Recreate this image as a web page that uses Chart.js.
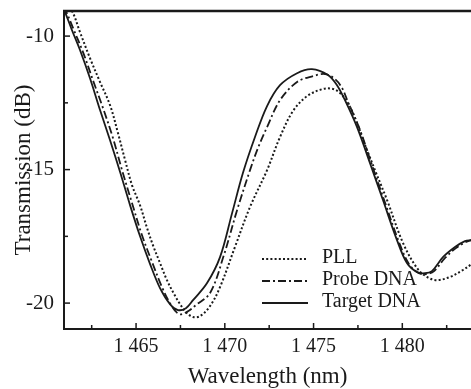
<!DOCTYPE html>
<html lang="en">
<head>
    <meta charset="UTF-8">
    <title>Transmission spectra</title>
    <script src="https://cdn.jsdelivr.net/npm/chart.js"></script>
    <style>
        html, body { margin: 0; padding: 0; background: #fff; }
        #wrap { width: 471px; height: 389px; }
    </style>
</head>
<body>
    <div id="wrap"><canvas id="specChart" width="471" height="389"></canvas></div>

    <script>
        // PLL (dotted)
        const pllWave = [1460.9, 1461.39, 1461.84, 1462.40, 1462.97, 1463.53, 1463.98, 1464.38, 1464.77, 1465.22, 1465.62, 1465.95, 1466.35, 1466.74, 1467.14, 1467.48, 1467.81, 1468.21, 1468.60, 1469.17, 1469.73, 1470.57, 1471.42, 1472.38, 1473.11, 1473.84, 1474.63, 1475.53, 1476.10, 1476.49, 1476.94, 1477.39, 1477.84, 1478.46, 1479.14, 1480.04, 1480.83, 1481.39, 1481.95, 1482.69, 1483.42, 1483.9];
        const pllTrans = [-8.7, -9.06, -9.85, -10.82, -11.72, -12.58, -13.63, -14.64, -15.58, -16.33, -17.19, -17.83, -18.50, -19.14, -19.66, -20.04, -20.34, -20.52, -20.49, -20.11, -19.40, -17.90, -16.40, -15.02, -13.78, -12.81, -12.25, -11.98, -11.98, -12.13, -12.51, -13.15, -13.97, -15.02, -16.14, -17.75, -18.69, -19.02, -19.14, -19.02, -18.76, -18.54];

        // Probe DNA (dash-dot)
        const probeWave = [1460.9, 1461.05, 1461.50, 1462.01, 1462.57, 1463.14, 1463.70, 1464.21, 1464.77, 1465.33, 1465.90, 1466.46, 1466.97, 1467.42, 1467.87, 1468.38, 1469.17, 1469.95, 1470.69, 1471.42, 1471.87, 1472.38, 1473.11, 1474.07, 1474.97, 1475.65, 1476.21, 1476.61, 1476.94, 1477.62, 1478.29, 1479.02, 1479.81, 1480.38, 1480.94, 1481.39, 1481.79, 1482.41, 1483.02, 1483.59, 1483.9];
        const probeTrans = [-8.9, -9.06, -9.78, -10.60, -11.65, -12.70, -13.82, -15.02, -16.25, -17.45, -18.46, -19.40, -20.07, -20.41, -20.33, -20.07, -19.62, -18.20, -16.52, -15.02, -14.19, -13.41, -12.40, -11.72, -11.50, -11.42, -11.61, -11.95, -12.47, -13.52, -14.83, -16.22, -17.71, -18.54, -18.88, -18.91, -18.80, -18.31, -17.94, -17.71, -17.64];

        // Target DNA (solid)
        const targetWave = [1460.9, 1461.00, 1461.39, 1461.84, 1462.40, 1462.97, 1463.53, 1464.10, 1464.66, 1465.22, 1465.79, 1466.35, 1466.91, 1467.36, 1467.81, 1468.21, 1469.00, 1469.73, 1470.41, 1471.02, 1471.70, 1472.38, 1473.11, 1474.07, 1474.91, 1475.81, 1476.32, 1476.77, 1477.45, 1478.18, 1478.91, 1479.70, 1480.26, 1480.83, 1481.28, 1481.67, 1482.29, 1482.97, 1483.53, 1483.9];
        const targetTrans = [-8.95, -9.10, -9.78, -10.52, -11.57, -12.77, -13.89, -15.09, -16.33, -17.49, -18.54, -19.44, -20.04, -20.26, -20.19, -19.89, -19.25, -18.28, -16.63, -15.13, -13.78, -12.62, -11.84, -11.39, -11.24, -11.46, -11.84, -12.40, -13.41, -14.76, -16.14, -17.64, -18.50, -18.84, -18.88, -18.80, -18.28, -17.90, -17.68, -17.64];

        const seriesNames = ['PLL', 'Probe DNA', 'Target DNA'];
        const xTicks = [1465, 1470, 1475, 1480];
        const xMinorTicks = [1462.5, 1467.5, 1472.5, 1477.5, 1482.5];
        const yTicks = [-20, -15, -10];
        const yMinorTicks = [-17.5, -12.5];

        const serif = "'Liberation Serif', 'Times New Roman', serif";

        function toPoints(xs, ys) {
            return xs.map((x, i) => ({ x: x, y: ys[i] }));
        }

        const dashStyles = [[2, 2.2], [8, 3, 2, 3], []];

        // 안쪽 눈금, 윗 테두리, 범례
        const framePlugin = {
            id: 'frame',
            afterDraw(chart) {
                const ctx = chart.ctx;
                const area = chart.chartArea;
                const xs = chart.scales.x;
                const ys = chart.scales.y;
                ctx.save();
                ctx.strokeStyle = '#1a1a1a';
                ctx.lineWidth = 2.5;
                ctx.beginPath();
                ctx.moveTo(area.left - 1, area.top);
                ctx.lineTo(chart.width, area.top);
                ctx.stroke();

                ctx.lineWidth = 1.5;
                const tick = (v, len, horiz) => {
                    ctx.beginPath();
                    if (horiz) {
                        const px = xs.getPixelForValue(v);
                        ctx.moveTo(px, area.bottom);
                        ctx.lineTo(px, area.bottom - len);
                    } else {
                        const py = ys.getPixelForValue(v);
                        ctx.moveTo(area.left, py);
                        ctx.lineTo(area.left + len, py);
                    }
                    ctx.stroke();
                };
                xTicks.forEach(v => tick(v, 6, true));
                xMinorTicks.forEach(v => tick(v, 4, true));
                yTicks.forEach(v => tick(v, 6, false));
                yMinorTicks.forEach(v => tick(v, 4, false));

                // legend
                const rows = [259, 281, 303];
                ctx.font = '20px ' + serif;
                ctx.fillStyle = '#1a1a1a';
                ctx.textBaseline = 'middle';
                chart.data.datasets.forEach((ds, i) => {
                    ctx.save();
                    ctx.lineWidth = ds.borderWidth;
                    ctx.setLineDash(ds.borderDash);
                    ctx.strokeStyle = ds.borderColor;
                    ctx.beginPath();
                    ctx.moveTo(262, rows[i]);
                    ctx.lineTo(308, rows[i]);
                    ctx.stroke();
                    ctx.restore();
                    ctx.fillText(ds.label, 322, rows[i] - 1);
                });
                ctx.restore();
            }
        };

        const ctx = document.getElementById('specChart').getContext('2d');
        new Chart(ctx, {
            type: 'scatter',
            data: {
                datasets: [
                    { label: seriesNames[0], data: toPoints(pllWave, pllTrans) },
                    { label: seriesNames[1], data: toPoints(probeWave, probeTrans) },
                    { label: seriesNames[2], data: toPoints(targetWave, targetTrans) }
                ].map((ds, i) => Object.assign(ds, {
                    showLine: true,
                    borderColor: '#1a1a1a',
                    borderWidth: i === 0 ? 2 : 1.8,
                    borderDash: dashStyles[i],
                    pointRadius: 0,
                    tension: 0.35,
                    fill: false
                }))
            },
            plugins: [framePlugin],
            options: {
                responsive: false,
                animation: false,
                layout: { padding: { top: 11, left: 0, right: 0, bottom: 0 } },
                plugins: {
                    legend: { display: false },
                    tooltip: { enabled: false }
                },
                scales: {
                    x: {
                        type: 'linear',
                        min: 1460.94,
                        max: 1483.87,
                        afterBuildTicks: axis => { axis.ticks = xTicks.map(v => ({ value: v })); },
                        afterFit: axis => {
                            axis.height = 60;
                            axis.paddingLeft = 0;
                            axis.paddingRight = 0;
                        },
                        grid: { display: false, drawTicks: false },
                        border: { display: true, color: '#1a1a1a', width: 2 },
                        ticks: {
                            padding: 6,
                            color: '#1a1a1a',
                            font: { family: serif, size: 20 },
                            callback: v => String(v).replace(/^(\d)(\d{3})$/, '$1 $2')
                        },
                        title: {
                            display: true,
                            text: 'Wavelength (nm)',
                            color: '#1a1a1a',
                            font: { family: serif, size: 23 },
                            padding: { top: 0, bottom: -2 }
                        }
                    },
                    y: {
                        type: 'linear',
                        min: -20.97,
                        max: -9.06,
                        afterBuildTicks: axis => { axis.ticks = yTicks.map(v => ({ value: v })); },
                        afterFit: axis => {
                            axis.width = 64;
                            axis.paddingTop = 0;
                            axis.paddingBottom = 0;
                        },
                        grid: { display: false, drawTicks: false },
                        border: { display: true, color: '#1a1a1a', width: 2 },
                        ticks: {
                            padding: 10,
                            color: '#1a1a1a',
                            font: { family: serif, size: 21 },
                            callback: v => String(v)
                        },
                        title: {
                            display: true,
                            text: 'Transmission (dB)',
                            color: '#1a1a1a',
                            font: { family: serif, size: 23 },
                            padding: { top: 10, bottom: 0 }
                        }
                    }
                }
            }
        });
    </script>
</body>
</html>
